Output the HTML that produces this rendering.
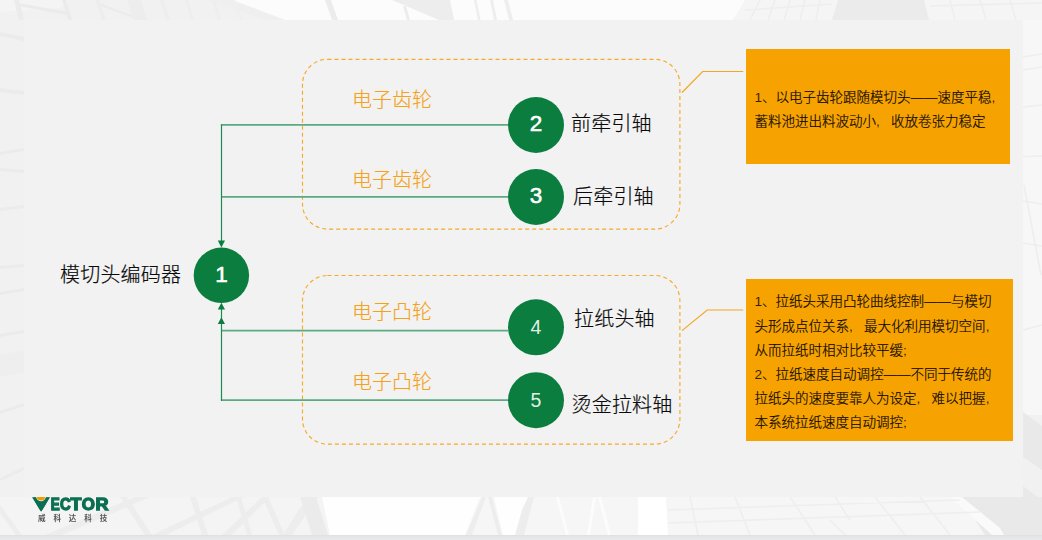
<!DOCTYPE html>
<html lang="zh-CN">
<head>
<meta charset="utf-8">
<title>模切头编码器</title>
<style>
html,body{margin:0;padding:0;}
body{width:1042px;height:540px;overflow:hidden;position:relative;background:#f3f3f3;font-family:"Liberation Sans","Noto Sans CJK SC",sans-serif;}
#bg{position:absolute;left:0;top:0;width:1042px;height:540px;}
#panel{position:absolute;left:24px;top:20px;width:999px;height:477px;background:#f2f2f2;}
#bar{position:absolute;left:0;top:535px;width:1042px;height:5px;background:linear-gradient(#dedfe0,#e4e5e6 30%,#e8e9ea);}
#art{position:absolute;left:0;top:0;width:1042px;height:540px;}
.t{position:absolute;white-space:nowrap;line-height:1;}
.lab{font-size:20px;color:#0a0a0a;font-weight:300;letter-spacing:0.2px;-webkit-text-stroke:0.2px #0a0a0a;}
.org{font-size:20px;color:#f5a21a;font-weight:300;-webkit-text-stroke:0.15px #f5a21a;}
.num{position:absolute;width:56px;height:56px;line-height:56px;text-align:center;color:#fff;font-size:20px;}
.box{position:absolute;background:#f6a200;color:#0d0800;font-size:13.5px;line-height:24.2px;font-weight:300;-webkit-text-stroke:0.2px #0d0800;}
.num.n{font-size:19.5px;color:rgba(255,255,255,0.9);}
.num.b{font-size:22.5px;-webkit-text-stroke:0.55px #fff;}
.box p{margin:0;white-space:nowrap;}
.box i{font-style:normal;color:rgba(13,8,0,0.85);-webkit-text-stroke:0;}
#logo{position:absolute;left:20px;top:490px;opacity:0.995;will-change:opacity;}
</style>
</head>
<body>
<svg id="bg" width="1042" height="540" viewBox="0 0 1042 540">
  <rect width="1042" height="540" fill="#f1f1f1"/>
  <!-- top strip -->
  <g>
    <polygon points="232,0 746,0 734,20 285,20" fill="#fcfcfc"/>
    <polygon points="0,0 70,0 60,8 0,12" fill="#f4f4f4"/>
    <polygon points="14,0 19,0 24,20 19,20" fill="#ebebeb"/>
    <polygon points="18,3 68,12 68,15 18,6" fill="#ebebeb"/>
    <polygon points="62,0 66,0 72,20 68,20" fill="#ebebeb"/>
    <polygon points="95,0 99,0 106,20 102,20" fill="#ededed"/>
    <polygon points="100,3 128,14 150,20 140,20 100,6" fill="#ebebeb"/>
    <polygon points="127,0 141,0 147,20 133,20" fill="#ededed"/>
    <polygon points="160,0 164,0 170,20 166,20" fill="#eeeeee"/>
    <polygon points="185,0 188,0 194,20 191,20" fill="#eeeeee"/>
    <polygon points="205,0 232,0 285,20 268,20" fill="#efefef"/>
    <polygon points="212,0 215,0 221,20 218,20" fill="#eeeeee"/>
    <polygon points="232,0 235,0 243,20 240,20" fill="#efefef"/>
    <polygon points="325,0 331,0 338,20 332,20" fill="#ececec"/>
    <polygon points="392,0 450,0 454,20 439,20" fill="#ededed"/>
    <polygon points="403,6 406,6 410,20 407,20" fill="#ececec"/>
    <polygon points="474,0 476.5,0 480.5,20 478,20" fill="#eeeeee"/>
    <polygon points="490,0 493,0 497,20 494,20" fill="#eeeeee"/>
    <polygon points="504,0 508,0 513,20 509,20" fill="#eeeeee"/>
    <polygon points="745,0 1042,0 1042,20 733,20" fill="#f5f5f5"/>
    <polygon points="838,0 924,0 929,20 832,20" fill="#ebebeb"/>
  </g>
  <!-- left strip -->
  <g fill="#ebebeb">
    <polygon points="0,32 24,37 24,41 0,36"/>
    <polygon points="0,88 24,91 24,95 0,92"/>
    <polygon points="0,152 24,148 24,151 0,155"/>
    <polygon points="0,168 24,170 24,173 0,171"/>
    <polygon points="0,208 24,205 24,208 0,211"/>
    <polygon points="0,266 24,264 24,267 0,269"/>
    <polygon points="0,292 24,288 24,291 0,295"/>
    <polygon points="0,334 24,330 24,333 0,337"/>
    <polygon points="0,355 24,350 24,372 0,377" fill="#eeeeee"/>
    <polygon points="0,411 24,403 24,406 0,414"/>
    <polygon points="0,478 24,467 24,470 0,481"/>
  </g>
  <!-- right strip -->
  <g>
    <rect x="1023" y="20" width="19" height="395" fill="#f7f7f7"/>
    <polygon points="1023,412 1042,426 1042,540 1023,540" fill="#e9e9e9"/>
    <polygon points="1023,457 1042,470 1042,500 1023,486" fill="#f1f1f1"/>
  </g>
  <!-- bottom strip -->
  <g>
    <rect x="0" y="497" width="330" height="38" fill="#f4f4f4"/>
    <polygon points="0,505 22,535 16,535 0,513" fill="#ededed"/>
    <polygon points="45,535 135,497 150,497 62,535" fill="#ededed"/>
    <polygon points="120,497 127,497 152,535 145,535" fill="#ededed"/>
    <polygon points="152,535 232,497 244,497 166,535" fill="#ededed"/>
    <polygon points="190,497 196,497 208,535 202,535" fill="#ededed"/>
    <polygon points="222,535 262,497 270,497 232,535" fill="#ededed"/>
    <polygon points="236,497 241,497 252,535 247,535" fill="#ededed"/>
    <polygon points="262,497 268,497 285,535 279,535" fill="#ededed"/>
    <polygon points="283,535 300,508 312,497 318,497 292,535" fill="#ededed"/>
    <polygon points="300,497 316,497 328,535 312,535" fill="#ebebeb"/>
    <polygon points="322,497 1042,497 1042,535 330,535" fill="#f6f6f6"/>
    <polygon points="322,497 480,497 465,535 330,535" fill="#fefefe"/>
    <polygon points="466,535 482,497 486,497 472,535" fill="#ededed"/>
    <polygon points="488,497 492,497 502,535 498,535" fill="#ededed"/>
    <polygon points="494,497 528,497 520,535 503,535" fill="#fefefe"/>
    <polygon points="515,535 522,510 528,497 534,497 524,535" fill="#ededed"/>
    <polygon points="638,497 666,497 668,535 638,535" fill="#ffffff"/>
    <polygon points="556,497 559,497 569,535 566,535" fill="#fcfcfc"/>
    <polygon points="593,497 596,497 590,535 587,535" fill="#fcfcfc"/>
    <polygon points="598,497 601,497 611,535 608,535" fill="#fcfcfc"/>
    <polygon points="960,497 1042,497 1042,535 985,535" fill="#e9e9e9"/>
    <polygon points="950,497 962,497 1000,528 1004,535 992,535" fill="#fafafa"/>
  </g>
  <g stroke="#eeeeee" stroke-width="1.6" fill="none">
    <path d="M668,510 L960,500 M668,523 L980,512 M690,497 L698,535 M735,497 L750,535 M790,497 L815,535 M835,497 L850,520 M875,497 L905,535 M920,497 L950,535 M830,520 L845,535"/>
    <path d="M760,0 L750,20 M775,0 L768,20 M790,0 L784,20 M805,0 L800,20 M820,0 L816,20 M745,10 L832,4 M930,6 L1042,3 M950,0 L955,20 M980,0 L986,20 M1010,0 L1016,20"/>
    <path d="M1023,57 L1042,54 M1023,70 L1042,67 M1023,107 L1042,105 M1023,156.5 L1042,156 M1023,201 L1042,204 M1023,243 L1042,246 M1024,185 L1041,275 M1023,330 L1042,325"/>
  </g>
</svg>
<div id="panel"></div>
<div id="bar"></div>

<svg id="art" width="1042" height="540" viewBox="0 0 1042 540">
  <g fill="none" stroke="#f6a92a" stroke-width="1.15" stroke-dasharray="4 3">
    <rect x="302.5" y="59.3" width="377.4" height="169.8" rx="25" ry="25"/>
    <rect x="302.5" y="275.5" width="377.4" height="168.6" rx="25" ry="25"/>
  </g>
  <g fill="none" stroke="#f5a623" stroke-width="1.2">
    <polyline points="682,92.5 702.6,71.5 743.2,71.5"/>
    <polyline points="682,330.6 707.2,310 743.2,310"/>
  </g>
  <g fill="none" stroke="#5aaa82" stroke-width="1.7">
    <line x1="508" y1="124.9" x2="220.9" y2="124.9"/>
    <line x1="508" y1="196.9" x2="221.4" y2="196.9"/>
    <line x1="508" y1="400.2" x2="220.9" y2="400.2"/>
    <line x1="508" y1="330.6" x2="221.4" y2="330.6"/>
  </g>
  <g fill="none" stroke="#1d8a52" stroke-width="1.2">
    <line x1="221.5" y1="124.5" x2="221.5" y2="242"/>
    <line x1="221.5" y1="400.8" x2="221.5" y2="308"/>
  </g>
  <g fill="#0b7e3f">
    <polygon points="217.8,240.4 225,240.4 221.4,247.5"/>
    <polygon points="217.8,309.6 225,309.6 221.4,302.8"/>
    <polygon points="217.8,324 225,324 221.4,317.2"/>
    <circle cx="221.4" cy="275.3" r="27.7"/>
    <circle cx="536" cy="125" r="28"/>
    <circle cx="536" cy="197" r="28"/>
    <circle cx="536" cy="327.3" r="28"/>
    <circle cx="536" cy="400.2" r="28"/>
  </g>
</svg>

<div class="t lab" style="left:60px;top:265px;">模切头编码器</div>
<div class="t org" style="left:352px;top:89.5px;">电子齿轮</div>
<div class="t org" style="left:352px;top:169.5px;">电子齿轮</div>
<div class="t org" style="left:352px;top:301.5px;">电子凸轮</div>
<div class="t org" style="left:352px;top:371.5px;">电子凸轮</div>
<div class="t lab" style="left:571px;top:113.8px;">前牵引轴</div>
<div class="t lab" style="left:573px;top:186.8px;">后牵引轴</div>
<div class="t lab" style="left:574px;top:308.8px;">拉纸头轴</div>
<div class="t lab" style="left:571.5px;top:394.8px;">烫金拉料轴</div>

<div class="num b" style="left:193.4px;top:247.3px;">1</div>
<div class="num b" style="left:508px;top:95.8px;">2</div>
<div class="num b" style="left:508px;top:167.9px;">3</div>
<div class="num n" style="left:508px;top:299.4px;">4</div>
<div class="num n" style="left:508px;top:372.2px;">5</div>

<div class="box" style="left:746px;top:49px;width:264px;height:115px;">
  <div style="position:absolute;left:8.6px;top:37px;">
    <p><i>1</i>、以电子齿轮跟随模切头<i>——</i>速度平稳<i>,</i></p>
    <p>蓄料池进出料波动小<i>,</i>&nbsp;&nbsp; 收放卷张力稳定</p>
  </div>
</div>
<div class="box" style="left:746px;top:279px;width:267px;height:162px;">
  <div style="position:absolute;left:8.6px;top:11.4px;">
    <p><i>1</i>、拉纸头采用凸轮曲线控制<i>——</i>与模切</p>
    <p>头形成点位关系<i>,</i>&nbsp;&nbsp; 最大化利用模切空间<i>,</i></p>
    <p>从而拉纸时相对比较平缓<i>;</i></p>
    <p><i>2</i>、拉纸速度自动调控<i>——</i>不同于传统的</p>
    <p>拉纸头的速度要靠人为设定<i>,</i>&nbsp;&nbsp; 难以把握<i>,</i></p>
    <p>本系统拉纸速度自动调控<i>;</i></p>
  </div>
</div>

<svg id="logo" width="130" height="40" viewBox="20 490 130 40">
  <defs>
    <mask id="vm" maskUnits="userSpaceOnUse" x="30" y="495" width="24" height="20">
      <rect x="30" y="495" width="24" height="20" fill="#fff"/>
      <ellipse cx="41" cy="496.7" rx="5" ry="4.5" fill="#000"/>
    </mask>
    <mask id="tm" maskUnits="userSpaceOnUse" x="20" y="490" width="130" height="40">
      <rect x="50.3" y="490" width="99" height="40" fill="#fff"/>
      <polygon points="32,497.3 50.1,497.3 41.1,511.7" fill="#fff"/>
      <ellipse cx="41" cy="496.7" rx="5" ry="4.5" fill="#000"/>
    </mask>
  </defs>
  <text y="510.2" font-family="'Liberation Sans',sans-serif" font-weight="bold" font-size="16.6" fill="#0a6e50" stroke="#0a6e50" stroke-width="1.3" stroke-linejoin="miter" mask="url(#tm)"><tspan x="34.2" textLength="14" lengthAdjust="spacingAndGlyphs">V</tspan><tspan x="50.8" textLength="9" lengthAdjust="spacingAndGlyphs">E</tspan><tspan x="60.1" textLength="10.6" lengthAdjust="spacingAndGlyphs">C</tspan><tspan x="70.4" textLength="10.9" lengthAdjust="spacingAndGlyphs">T</tspan><tspan x="81.7" textLength="13.2" lengthAdjust="spacingAndGlyphs">O</tspan><tspan x="95.6" textLength="13" lengthAdjust="spacingAndGlyphs">R</tspan></text>
  <polygon points="32,497.3 50.1,497.3 41.1,511.7" fill="#0a6e50" mask="url(#vm)"/>
  <path d="M36.9,497 H45.1 A4.1,3.6 0 0 1 36.9,497 Z" fill="#f39c00"/>
  <text x="38" y="520.8" font-family="'Liberation Sans','Noto Sans CJK SC',sans-serif" font-weight="bold" font-size="7.5" fill="#555" textLength="69.2" lengthAdjust="spacing">威科达科技</text>
</svg>
</body>
</html>
